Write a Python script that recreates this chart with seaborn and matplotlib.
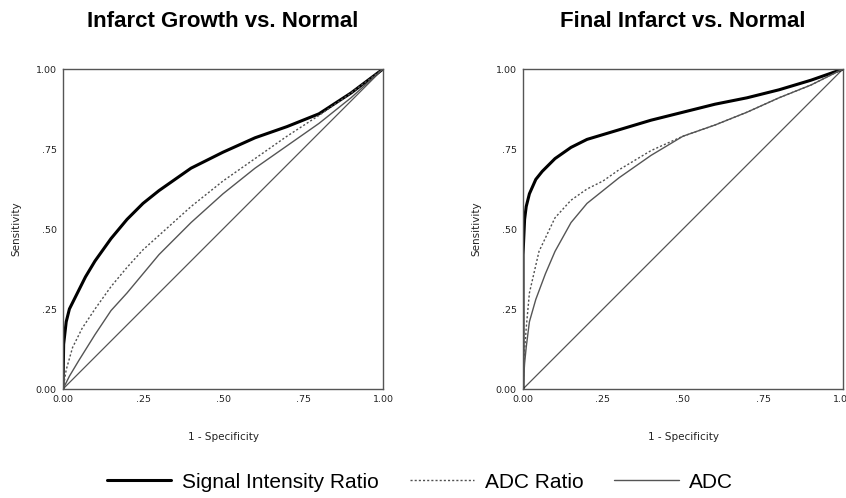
import matplotlib
matplotlib.use('Agg')
import matplotlib.pyplot as plt
import seaborn as sns
import pandas as pd
from matplotlib.lines import Line2D

# ROC curves (x = 1 - specificity, y = sensitivity)
growth_sir_x = [0, 0.002, 0.01, 0.02, 0.04, 0.07, 0.10, 0.15, 0.20, 0.25, 0.30, 0.40, 0.50, 0.60, 0.70, 0.80, 0.90, 1.0]
growth_sir_y = [0, 0.14, 0.21, 0.25, 0.29, 0.35, 0.40, 0.47, 0.53, 0.58, 0.62, 0.69, 0.74, 0.785, 0.82, 0.86, 0.925, 1.0]
growth_ratio_x = [0, 0.01, 0.03, 0.06, 0.10, 0.15, 0.20, 0.25, 0.30, 0.40, 0.50, 0.60, 0.70, 0.80, 0.90, 1.0]
growth_ratio_y = [0, 0.06, 0.13, 0.19, 0.25, 0.32, 0.38, 0.435, 0.48, 0.57, 0.65, 0.72, 0.79, 0.855, 0.925, 1.0]
growth_adc_x = [0, 0.02, 0.05, 0.10, 0.15, 0.20, 0.25, 0.30, 0.40, 0.50, 0.60, 0.70, 0.80, 0.90, 1.0]
growth_adc_y = [0, 0.04, 0.09, 0.17, 0.245, 0.30, 0.36, 0.42, 0.52, 0.61, 0.69, 0.76, 0.83, 0.91, 1.0]

final_sir_x = [0, 0.0, 0.005, 0.01, 0.02, 0.04, 0.06, 0.10, 0.15, 0.20, 0.25, 0.30, 0.40, 0.50, 0.60, 0.70, 0.80, 0.90, 1.0]
final_sir_y = [0, 0.42, 0.53, 0.57, 0.61, 0.655, 0.68, 0.72, 0.755, 0.78, 0.795, 0.81, 0.84, 0.865, 0.89, 0.91, 0.935, 0.965, 1.0]
final_ratio_x = [0, 0.005, 0.01, 0.02, 0.05, 0.10, 0.15, 0.20, 0.25, 0.30, 0.40, 0.50, 0.60, 0.70, 0.80, 0.90, 1.0]
final_ratio_y = [0, 0.12, 0.19, 0.30, 0.43, 0.535, 0.59, 0.625, 0.65, 0.685, 0.745, 0.79, 0.825, 0.865, 0.91, 0.95, 1.0]
final_adc_x = [0, 0.005, 0.01, 0.02, 0.04, 0.07, 0.10, 0.15, 0.20, 0.25, 0.30, 0.40, 0.50, 0.60, 0.70, 0.80, 0.90, 1.0]
final_adc_y = [0, 0.08, 0.13, 0.21, 0.28, 0.36, 0.43, 0.52, 0.58, 0.62, 0.66, 0.73, 0.79, 0.825, 0.865, 0.91, 0.95, 1.0]

ref_x = [0, 1]
ref_y = [0, 1]

titles = ['Infarct Growth vs. Normal', 'Final Infarct vs. Normal']
series_names = ['Signal Intensity Ratio', 'ADC Ratio', 'ADC']
tick_vals = [0, 0.25, 0.5, 0.75, 1.0]
tick_labels = ['0.00', '.25', '.50', '.75', '1.00']

panels = [
    [(growth_sir_x, growth_sir_y), (growth_ratio_x, growth_ratio_y), (growth_adc_x, growth_adc_y)],
    [(final_sir_x, final_sir_y), (final_ratio_x, final_ratio_y), (final_adc_x, final_adc_y)],
]

styles = [
    dict(color='black', linewidth=2.2, linestyle='-'),
    dict(color='#505050', linewidth=1.0, linestyle=(0, (1.5, 1.5))),
    dict(color='#555555', linewidth=1.0, linestyle='-'),
]

sns.set_style('white')
plt.rcParams['font.family'] = ['DejaVu Sans']
plt.rcParams['text.color'] = 'black'

fig = plt.figure(figsize=(8.46, 4.98), dpi=100)
axes = [fig.add_axes([63 / 846, 1 - 389 / 498, 320 / 846, 320 / 498]),
        fig.add_axes([523 / 846, 1 - 389 / 498, 320 / 846, 320 / 498])]

for ax, curves, title in zip(axes, panels, titles):
    # chance diagonal
    sns.lineplot(x=ref_x, y=ref_y, ax=ax, color='#555555', linewidth=0.9,
                 estimator=None, sort=False)
    for (cx, cy), st in zip(curves, styles):
        df = pd.DataFrame({'x': cx, 'y': cy})
        sns.lineplot(data=df, x='x', y='y', ax=ax, estimator=None, sort=False,
                     **st)
    ax.set_xlim(0, 1)
    ax.set_ylim(0, 1)
    ax.set_xticks(tick_vals)
    ax.set_xticklabels(tick_labels)
    ax.set_yticks(tick_vals)
    ax.set_yticklabels(tick_labels)
    ax.tick_params(axis='both', direction='out', length=2.5, width=1.2,
                   colors='#222222', labelsize=6.8, pad=2)
    for sp in ax.spines.values():
        sp.set_color('#555555')
        sp.set_linewidth(1.0)
    ax.set_xlabel('1 - Specificity', fontsize=7.5, color='#222222', labelpad=20)
    ax.set_ylabel('Sensitivity', fontsize=7.5, color='#222222', labelpad=10)
    ax.set_title(title, fontsize=16, fontweight='bold', family='Liberation Sans',
                 color='black', pad=30)

handles = [Line2D([], [], **st) for st in styles]
fig.legend(handles, series_names, loc='center', bbox_to_anchor=(420 / 846, 1 - 482 / 498),
           ncol=3, frameon=False, handlelength=3.1, columnspacing=1.5,
           handletextpad=0.5, prop={'family': 'Liberation Sans', 'size': 15})

fig.savefig('out.png', dpi=100)
